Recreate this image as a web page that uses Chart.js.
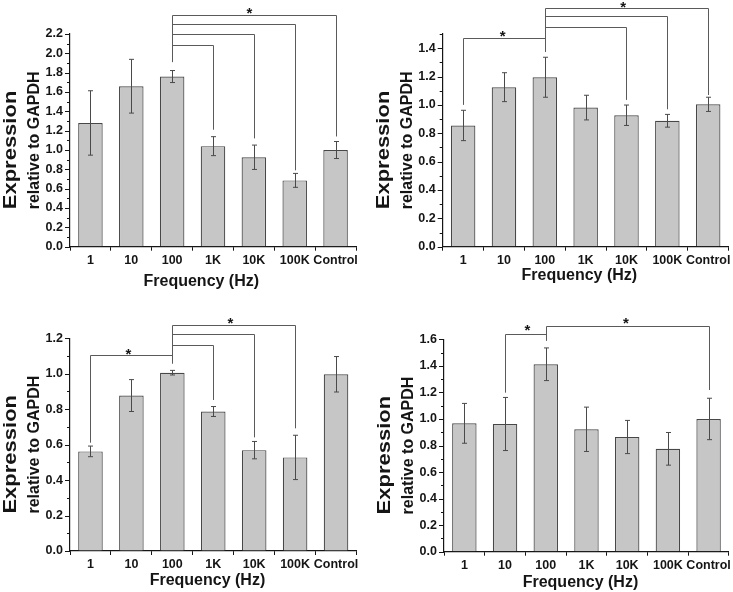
<!DOCTYPE html>
<html>
<head>
<meta charset="utf-8">
<script src="https://cdn.jsdelivr.net/npm/chart.js@4.4.1/dist/chart.umd.min.js"></script>
<style>
  body { margin: 0; background: #fff; }
  #wrap { position: relative; width: 733px; height: 592px; }
  canvas { position: absolute; }
</style>
</head>
<body>
<div id="wrap">
  <canvas id="c1" width="366" height="296" style="left:0;top:0"></canvas>
  <canvas id="c2" width="367" height="296" style="left:366px;top:0"></canvas>
  <canvas id="c3" width="366" height="296" style="left:0;top:296px"></canvas>
  <canvas id="c4" width="367" height="296" style="left:366px;top:296px"></canvas>
</div>
<script>
const categories = ['1', '10', '100', '1K', '10K', '100K', 'Control'];

// top left
const meanA = [1.28, 1.66, 1.76, 1.04, 0.925, 0.686, 1.0];
const errA = [0.333, 0.278, 0.062, 0.098, 0.126, 0.072, 0.088];
// [from, to, level, foot at from, foot at to]
const bracketsA = [[2, 3, 2.09, 1.91, 1.21], [2, 4, 2.20, 1.91, 1.12], [2, 5, 2.30, 1.91, 0.79], [2, 6, 2.40, 1.91, 1.14]];
const starsA = [[3.89, 2.45]];

// top right
const meanB = [0.855, 1.125, 1.195, 0.981, 0.927, 0.888, 1.004];
const errB = [0.107, 0.102, 0.141, 0.087, 0.072, 0.045, 0.05];
const bracketsB = [[0, 2, 1.47, 1.0, 1.376], [2, 4, 1.548, 1.376, 1.035], [2, 5, 1.628, 1.376, 0.969], [2, 6, 1.682, 1.376, 1.07]];
const starsB = [[0.97, 1.513], [3.92, 1.713]];

// bottom left
const meanC = [0.562, 0.877, 1.006, 0.787, 0.569, 0.528, 0.997];
const errC = [0.03, 0.09, 0.013, 0.028, 0.049, 0.125, 0.1];
const bracketsC = [[0, 2, 1.106, 0.611, 1.059], [2, 3, 1.162, 1.059, 0.852], [2, 4, 1.222, 1.059, 0.641], [2, 5, 1.275, 1.059, 0.692]];
const starsC = [[0.93, 1.13], [3.42, 1.307]];

// bottom right
const meanD = [0.967, 0.962, 1.412, 0.922, 0.864, 0.775, 1.0];
const errD = [0.15, 0.2, 0.123, 0.167, 0.125, 0.123, 0.156];
const bracketsD = [[1, 2, 1.64, 1.198, 1.59], [2, 6, 1.703, 1.59, 1.218]];
const starsD = [[1.55, 1.695], [3.97, 1.751]];

const FONT = "'Liberation Sans', Arial, sans-serif";
const INK = '#151515';

const panels = [
  { id: 'c1', mean: meanA, err: errA, brackets: bracketsA, stars: starsA, yMax: 2.2,
    plot: [70, 34, 356, 246.7], titleX: [-11.7, 35] },
  { id: 'c2', mean: meanB, err: errB, brackets: bracketsB, stars: starsB, yMax: 1.5,
    plot: [76.7, 34, 362.6, 246.7], titleX: [-6.3, 29.3] },
  { id: 'c3', mean: meanC, err: errC, brackets: bracketsC, stars: starsC, yMax: 1.2,
    plot: [70, 42.3, 356.5, 255], titleX: [-5.8, 30] },
  { id: 'c4', mean: meanD, err: errD, brackets: bracketsD, stars: starsD, yMax: 1.6,
    plot: [78, 43.3, 364.3, 255.7], titleX: [-6, 31] }
];

function isMajor(v) {
  return Math.round(v * 10) % 2 === 0;
}

// error bars, significance brackets, y tick marks and axis titles
function makeExtras(p) {
  return {
    id: 'extras',
    afterDatasetsDraw(chart) {
      const ctx = chart.ctx;
      const xs = chart.scales.x, ys = chart.scales.y;
      const a = chart.chartArea;
      const bars = chart.getDatasetMeta(0).data;
      ctx.save();

      ctx.strokeStyle = '#4a4a4a';
      ctx.lineWidth = 1;
      p.mean.forEach((m, i) => {
        const px = Math.round(bars[i].x) + 0.5;
        const top = ys.getPixelForValue(m + p.err[i]);
        const bot = ys.getPixelForValue(m - p.err[i]);
        ctx.beginPath();
        ctx.moveTo(px, top); ctx.lineTo(px, bot);
        ctx.moveTo(px - 2.5, top); ctx.lineTo(px + 2.5, top);
        ctx.moveTo(px - 2.5, bot); ctx.lineTo(px + 2.5, bot);
        ctx.stroke();
      });

      ctx.strokeStyle = '#5a5a5a';
      p.brackets.forEach(b => {
        const x1 = Math.round(xs.getPixelForValue(b[0])) + 0.5;
        const x2 = Math.round(xs.getPixelForValue(b[1])) + 0.5;
        const yl = Math.round(ys.getPixelForValue(b[2])) + 0.5;
        ctx.beginPath();
        ctx.moveTo(x1, ys.getPixelForValue(b[3]));
        ctx.lineTo(x1, yl);
        ctx.lineTo(x2, yl);
        ctx.lineTo(x2, ys.getPixelForValue(b[4]));
        ctx.stroke();
      });

      ctx.fillStyle = INK;
      ctx.font = 'bold 15px ' + FONT;
      ctx.textAlign = 'center';
      ctx.textBaseline = 'alphabetic';
      p.stars.forEach(s => {
        ctx.fillText('*', xs.getPixelForValue(s[0]), ys.getPixelForValue(s[1]) + 8.5);
      });

      // y tick marks, long for labelled values
      ctx.strokeStyle = INK;
      ys.ticks.forEach(t => {
        const py = Math.round(ys.getPixelForValue(t.value)) + 0.5;
        const len = isMajor(t.value) ? 5 : 3;
        ctx.beginPath();
        ctx.moveTo(a.left - len, py);
        ctx.lineTo(a.left, py);
        ctx.stroke();
      });

      // axis titles
      ctx.textBaseline = 'middle';
      ctx.font = 'bold 16px ' + FONT;
      ctx.fillText('Frequency (Hz)', (a.left + a.right) / 2 + p.titleX[0], a.bottom + p.titleX[1]);

      const cy = (a.top + a.bottom) / 2;
      ctx.save();
      ctx.translate(a.left - 35.5, cy);
      ctx.rotate(-Math.PI / 2);
      ctx.fillText('relative to GAPDH', 0, 0);
      const half = ctx.measureText('relative to GAPDH').width / 2;
      ctx.restore();

      ctx.save();
      ctx.font = 'bold 22px ' + FONT;
      ctx.translate(a.left - 59, cy);
      ctx.rotate(-Math.PI / 2);
      ctx.scale(1, 0.85);
      ctx.textAlign = 'left';
      ctx.fillText('Expression', -half, 0);
      ctx.restore();

      ctx.restore();
    }
  };
}

panels.forEach(p => {
  const canvas = document.getElementById(p.id);
  const W = canvas.width, H = canvas.height;
  new Chart(canvas.getContext('2d'), {
    type: 'bar',
    data: {
      labels: categories,
      datasets: [{
        data: p.mean,
        backgroundColor: '#c6c6c6',
        borderColor: '#474747',
        borderWidth: 1.2,
        barPercentage: 0.6,
        categoryPercentage: 1.0
      }]
    },
    options: {
      responsive: false,
      animation: false,
      layout: { padding: { left: 0, top: p.plot[1], right: W - p.plot[2], bottom: 0 } },
      plugins: { legend: { display: false }, tooltip: { enabled: false } },
      scales: {
        x: {
          grid: { display: true, drawOnChartArea: false, offset: true, tickLength: 4, color: INK, tickColor: INK },
          border: { display: true, color: INK, width: 1.2 },
          ticks: {
            color: INK, padding: 2, autoSkip: false, maxRotation: 0, minRotation: 0,
            font: { family: FONT, size: 12.5, weight: 'bold' }
          },
          afterFit(s) { s.height = H - p.plot[3]; }
        },
        y: {
          min: 0,
          max: p.yMax,
          grid: { display: true, drawOnChartArea: false, drawTicks: false },
          border: { display: true, color: INK, width: 1.2 },
          ticks: {
            stepSize: 0.1, autoSkip: false, padding: 7, color: INK,
            font: { family: FONT, size: 12.5, weight: 'bold' },
            callback: v => isMajor(v) ? (Math.round(v * 10) / 10).toFixed(1) : ''
          },
          afterFit(s) { s.width = p.plot[0]; }
        }
      }
    },
    plugins: [makeExtras(p)]
  });
});
</script>
</body>
</html>
